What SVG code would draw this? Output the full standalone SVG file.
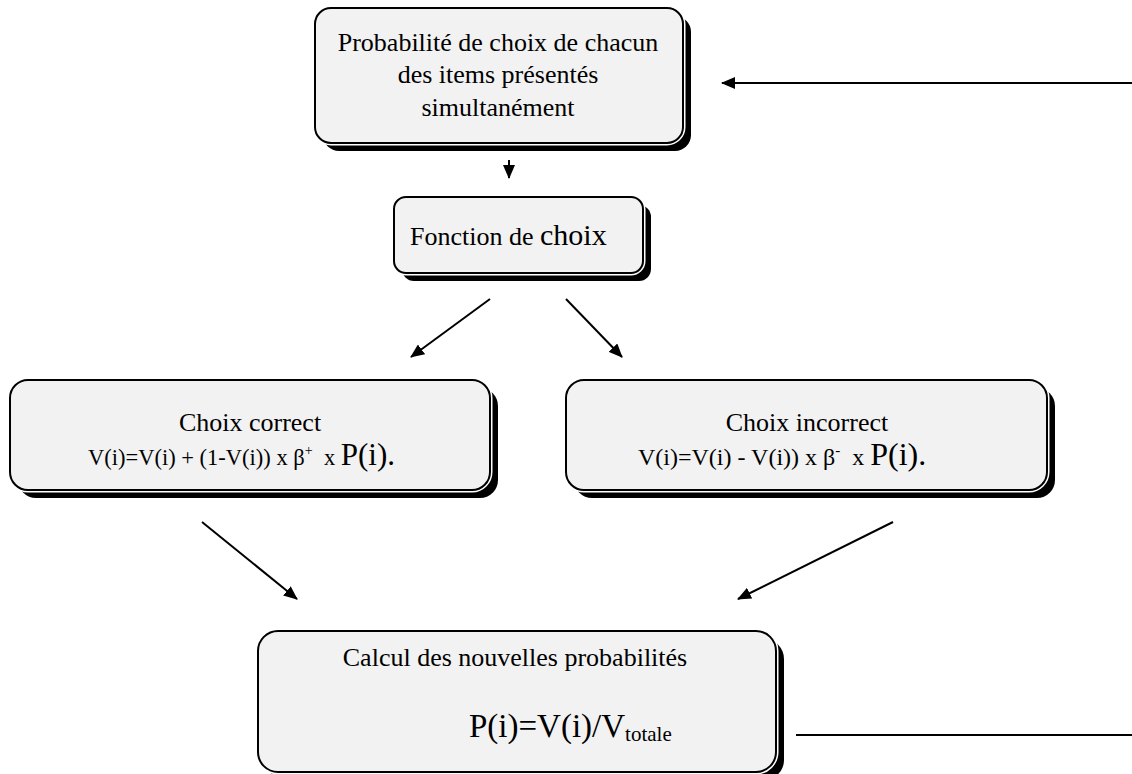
<svg xmlns="http://www.w3.org/2000/svg" width="1132" height="774" viewBox="0 0 1132 774">
<defs>
<style>
.sh{fill:#000;}
.halo{fill:none;stroke:#fff;stroke-width:5;}
.box{fill:#f2f2f2;stroke:#000;stroke-width:2;}
.t{font-family:"Liberation Serif","Times New Roman",serif;font-size:26px;fill:#000;}
.f{font-family:"Liberation Serif","Times New Roman",serif;font-size:22.5px;fill:#000;}
.ln{stroke:#000;stroke-width:2;fill:none;}
</style>
<marker id="ah" viewBox="0 0 14 12" refX="13" refY="6" markerWidth="14" markerHeight="12" markerUnits="userSpaceOnUse" orient="auto">
<path d="M0,0 L14,6 L0,12 Z" fill="#000"/>
</marker>
</defs>
<g id="connectors">
<line class="ln" x1="1132" y1="83" x2="722" y2="83" marker-end="url(#ah)"/>
<line class="ln" x1="509" y1="160" x2="509" y2="178" marker-end="url(#ah)"/>
<line class="ln" x1="490" y1="299" x2="411" y2="357" marker-end="url(#ah)"/>
<line class="ln" x1="566" y1="299" x2="622" y2="357" marker-end="url(#ah)"/>
<line class="ln" x1="202" y1="522" x2="297" y2="599" marker-end="url(#ah)"/>
<line class="ln" x1="893" y1="522" x2="738" y2="599" marker-end="url(#ah)"/>
<line class="ln" x1="796" y1="735" x2="1132" y2="735"/>
</g>
<g id="node-probabilite">
<rect class="sh" x="323" y="16" width="368" height="135" rx="16"/>
<rect class="halo" x="315" y="8" width="368" height="135" rx="16"/>
<rect class="box" x="315" y="8" width="368" height="135" rx="16"/>
<text class="t" x="498" y="51" text-anchor="middle">Probabilité de choix de chacun</text>
<text class="t" x="498" y="83" text-anchor="middle">des items présentés</text>
<text class="t" x="498" y="116" text-anchor="middle">simultanément</text>
</g>
<g id="node-fonction">
<rect class="sh" x="402" y="205" width="249" height="76" rx="12"/>
<rect class="halo" x="394" y="197" width="249" height="76" rx="12"/>
<rect class="box" x="394" y="197" width="249" height="76" rx="12"/>
<text class="t" x="410" y="245">Fonction de <tspan font-size="30">choix</tspan></text>
</g>
<g id="node-correct">
<rect class="sh" x="18" y="388" width="480" height="110" rx="18"/>
<rect class="halo" x="10" y="380" width="480" height="110" rx="18"/>
<rect class="box" x="10" y="380" width="480" height="110" rx="18"/>
<text class="t" x="250" y="431" text-anchor="middle">Choix correct</text>
<text class="f" x="88" y="465">V(i)=V(i) + (1-V(i)) x β<tspan font-size="14" dy="-10">+</tspan><tspan dy="10">&#160; x </tspan><tspan font-size="31">P(i).</tspan></text>
</g>
<g id="node-incorrect">
<rect class="sh" x="574" y="388" width="481" height="110" rx="18"/>
<rect class="halo" x="566" y="380" width="481" height="110" rx="18"/>
<rect class="box" x="566" y="380" width="481" height="110" rx="18"/>
<text class="t" x="807" y="431" text-anchor="middle">Choix incorrect</text>
<text class="f" x="638" y="465" style="font-size:24px">V(i)=V(i) - V(i)) x β<tspan font-size="15" dy="-10">-</tspan><tspan dy="10">&#160; x </tspan><tspan font-size="32">P(i).</tspan></text>
</g>
<g id="node-calcul">
<rect class="sh" x="266" y="639" width="518" height="141" rx="20"/>
<rect class="halo" x="258" y="631" width="518" height="141" rx="20"/>
<rect class="box" x="258" y="631" width="518" height="141" rx="20"/>
<text class="t" x="515" y="666" text-anchor="middle">Calcul des nouvelles probabilités</text>
<text class="t" x="469" y="737" style="font-size:33px">P(i)=V(i)/V<tspan style="font-size:21px" dy="4">totale</tspan></text>
</g>
</svg>
